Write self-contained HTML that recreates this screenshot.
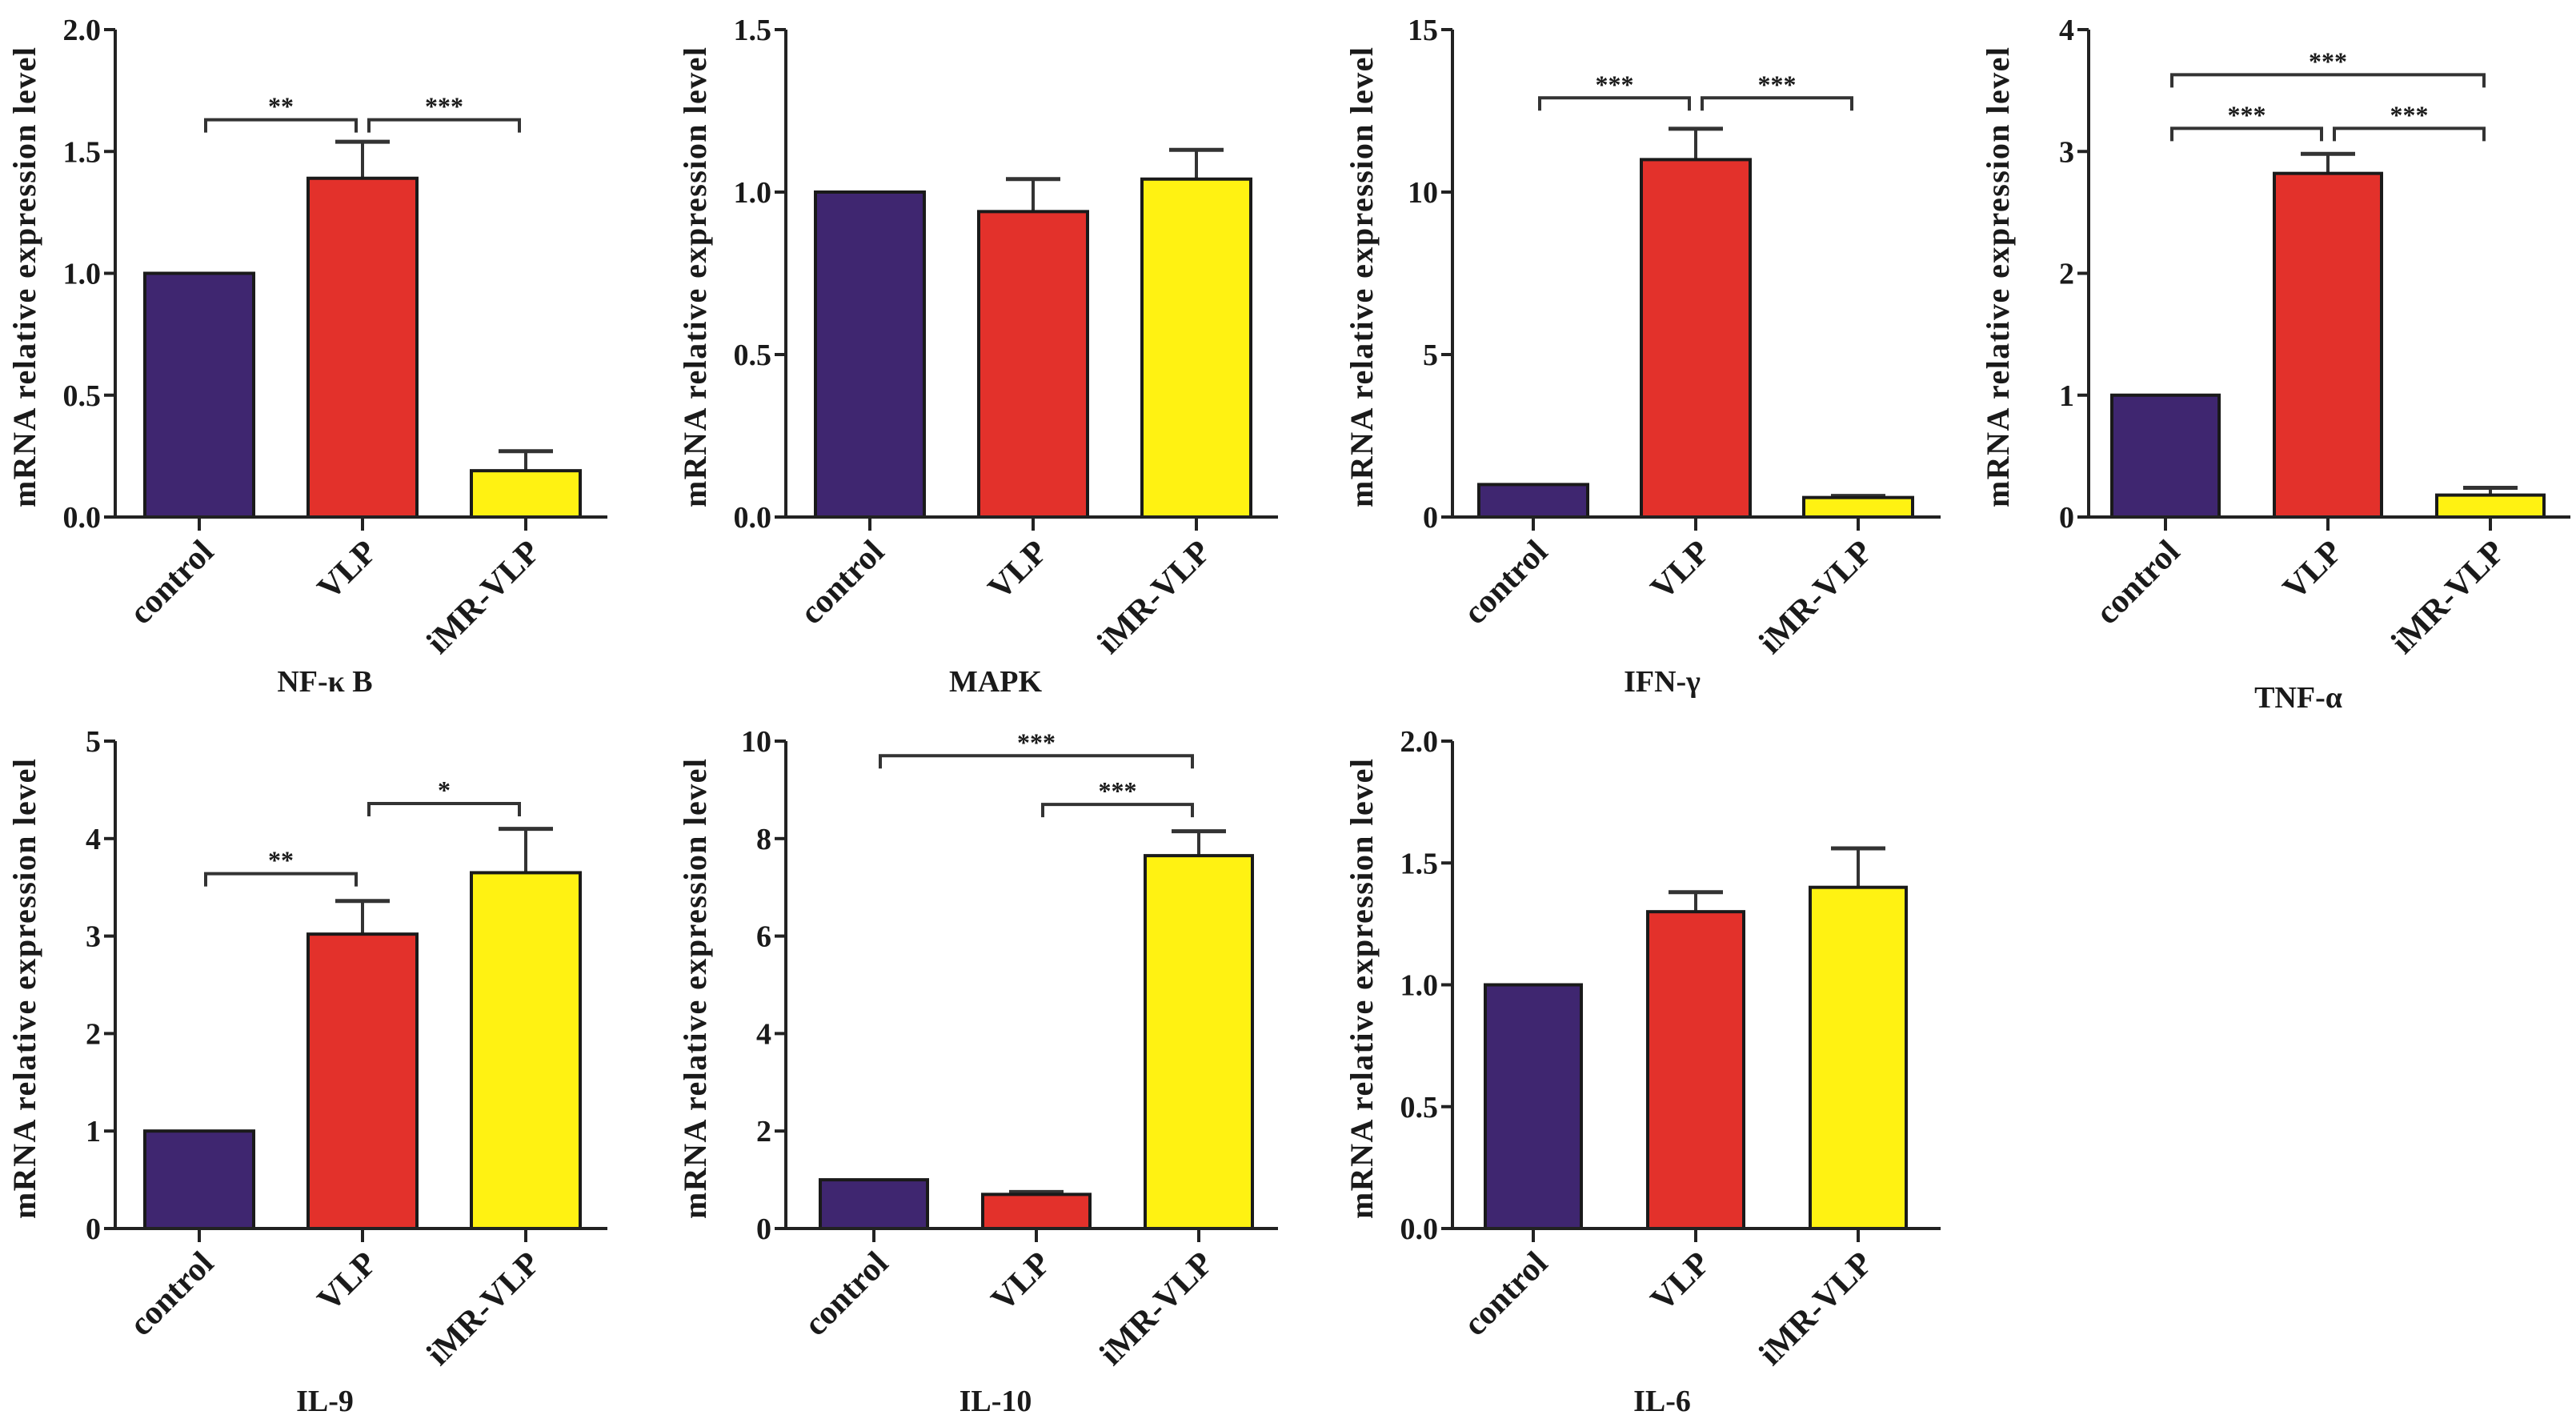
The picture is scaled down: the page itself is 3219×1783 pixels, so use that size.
<!DOCTYPE html>
<html><head><meta charset="utf-8"><style>
html,body{margin:0;padding:0;background:#fff;}
svg{display:block;}
text{font-family:"Liberation Serif","DejaVu Serif",serif;font-weight:bold;fill:#1a1a1a;}
</style></head>
<body>
<svg id="fig" width="3219" height="1783" viewBox="0 0 3219 1783"></svg>
<script>
const categories = ["control","VLP","iMR-VLP"];
const nfkbValues = [1.0, 1.39, 0.19];
const nfkbErrors = [0, 0.15, 0.08];
const mapkValues = [1.0, 0.94, 1.04];
const mapkErrors = [0, 0.10, 0.09];
const ifngValues = [1.0, 11.0, 0.6];
const ifngErrors = [0, 0.95, 0.05];
const tnfaValues = [1.0, 2.82, 0.18];
const tnfaErrors = [0, 0.16, 0.06];
const il9Values = [1.0, 3.02, 3.65];
const il9Errors = [0, 0.34, 0.45];
const il10Values = [1.0, 0.7, 7.65];
const il10Errors = [0, 0.05, 0.5];
const il6Values = [1.0, 1.3, 1.4];
const il6Errors = [0, 0.08, 0.16];
const nfkbTicks = ["0.0","0.5","1.0","1.5","2.0"];
const mapkTicks = ["0.0","0.5","1.0","1.5"];
const ifngTicks = ["0","5","10","15"];
const tnfaTicks = ["0","1","2","3","4"];
const il9Ticks = ["0","1","2","3","4","5"];
const il10Ticks = ["0","2","4","6","8","10"];
const il6Ticks = ["0.0","0.5","1.0","1.5","2.0"];
// brackets: [fromIndex, toIndex, yValue, label]
const nfkbBrackets = [[0,1,1.63,"**"],[1,2,1.63,"***"]];
const mapkBrackets = [];
const ifngBrackets = [[0,1,12.9,"***"],[1,2,12.9,"***"]];
const tnfaBrackets = [[0,2,3.63,"***"],[0,1,3.19,"***"],[1,2,3.19,"***"]];
const il9Brackets = [[0,1,3.64,"**"],[1,2,4.36,"*"]];
const il10Brackets = [[0,2,9.7,"***"],[1,2,8.7,"***"]];
const il6Brackets = [];

const colors = ["#3f2670","#e3312b","#fff212"];
const NS = "http://www.w3.org/2000/svg";
const svg = document.getElementById("fig");
function mk(tag, attrs, parent){
  const e = document.createElementNS(NS, tag);
  for (const k in attrs) e.setAttribute(k, attrs[k]);
  (parent||svg).appendChild(e);
  return e;
}
const PH = 609;

function panel(name, title, x0, top, ticks, values, errors, brackets, titleDy, PW, BOFF, BW, BSTEP){
  const g = mk("g", {});
  
  
  const bottom = top + PH;
  const ymax = parseFloat(ticks[ticks.length-1]);
  const y = v => bottom - v / ymax * PH;
  const cx = i => x0 + BOFF + BW/2 + i*BSTEP;
  const ya = mk("line", {x1:x0, y1:top, x2:x0, y2:bottom, stroke:"#222", "stroke-width":4}, g);
  
  
  ticks.forEach(t => {
    const yy = y(parseFloat(t));
    mk("line", {x1:x0-14, y1:yy, x2:x0, y2:yy, stroke:"#222", "stroke-width":4}, g);
    const tl = mk("text", {x:x0-18, y:yy+13, "text-anchor":"end", "font-size":38}, g);
    tl.textContent = t;
    
    
  });
  const yt = mk("text", {x:0, y:0, "text-anchor":"middle", "font-size":40, textLength:575, lengthAdjust:"spacing",
    transform:`translate(${x0-100},${(top+bottom)/2+5}) rotate(-90)`}, g);
  yt.textContent = "mRNA relative expression level";
  
  
  values.forEach((v, i) => {
    const bx = cx(i) - BW/2;
    if (errors[i] > 0) {
      const ye = y(v + errors[i]);
      mk("line", {x1:cx(i), y1:y(v), x2:cx(i), y2:ye, stroke:"#333", "stroke-width":4}, g);
      const cap = mk("line", {x1:cx(i)-34, y1:ye, x2:cx(i)+34, y2:ye, stroke:"#333", "stroke-width":5}, g);
      
      
    }
    const r = mk("rect", {x:bx, y:y(v), width:BW, height:bottom - y(v), fill:colors[i], stroke:"#1a1a1a", "stroke-width":4}, g);
    
    
  });
  const xa = mk("line", {x1:x0, y1:bottom, x2:x0+PW, y2:bottom, stroke:"#222", "stroke-width":4}, g);
  
  
  categories.forEach((c, i) => {
    mk("line", {x1:cx(i), y1:bottom, x2:cx(i), y2:bottom+17, stroke:"#222", "stroke-width":4}, g);
    const cl = mk("text", {x:0, y:0, "text-anchor":"end", "font-size":42,
      transform:`translate(${cx(i)+20},${bottom+46}) rotate(-45)`}, g);
    cl.textContent = c;
    
    
  });
  brackets.forEach(b => {
    const [a, c, v, lab] = b;
    let xa1 = cx(a) + 8, xa2 = cx(c) - 8;
    const yy = y(v);
    const p = mk("path", {d:`M${xa1},${yy+16} L${xa1},${yy} L${xa2},${yy} L${xa2},${yy+16}`, fill:"none", stroke:"#333", "stroke-width":4}, g);
    
    
    const st = mk("text", {x:(xa1+xa2)/2, y:yy-6, "text-anchor":"middle", "font-size":32, "font-weight":"normal"}, g);
    st.textContent = lab;
    
    
  });
  const tt = mk("text", {x:x0+262, y:bottom+titleDy, "text-anchor":"middle", "font-size":38}, g);
  tt.textContent = title;
  
  
}
const T1 = 37, T2 = 926;
panel("nfkb","NF-κ B",144,T1,nfkbTicks,nfkbValues,nfkbErrors,nfkbBrackets,218,615,37,136,204);
panel("mapk","MAPK",982,T1,mapkTicks,mapkValues,mapkErrors,mapkBrackets,218,615,37,136,204);
panel("ifng","IFN-γ",1815,T1,ifngTicks,ifngValues,ifngErrors,ifngBrackets,218,610,33,136,203);
panel("tnfa","TNF-α",2610,T1,tnfaTicks,tnfaValues,tnfaErrors,tnfaBrackets,238,602,29,134,203);
panel("il9","IL-9",144,T2,il9Ticks,il9Values,il9Errors,il9Brackets,228,615,37,136,204);
panel("il10","IL-10",982,T2,il10Ticks,il10Values,il10Errors,il10Brackets,228,615,43,134,203);
panel("il6","IL-6",1815,T2,il6Ticks,il6Values,il6Errors,il6Brackets,228,610,41,120,203);
</script>
</body></html>
